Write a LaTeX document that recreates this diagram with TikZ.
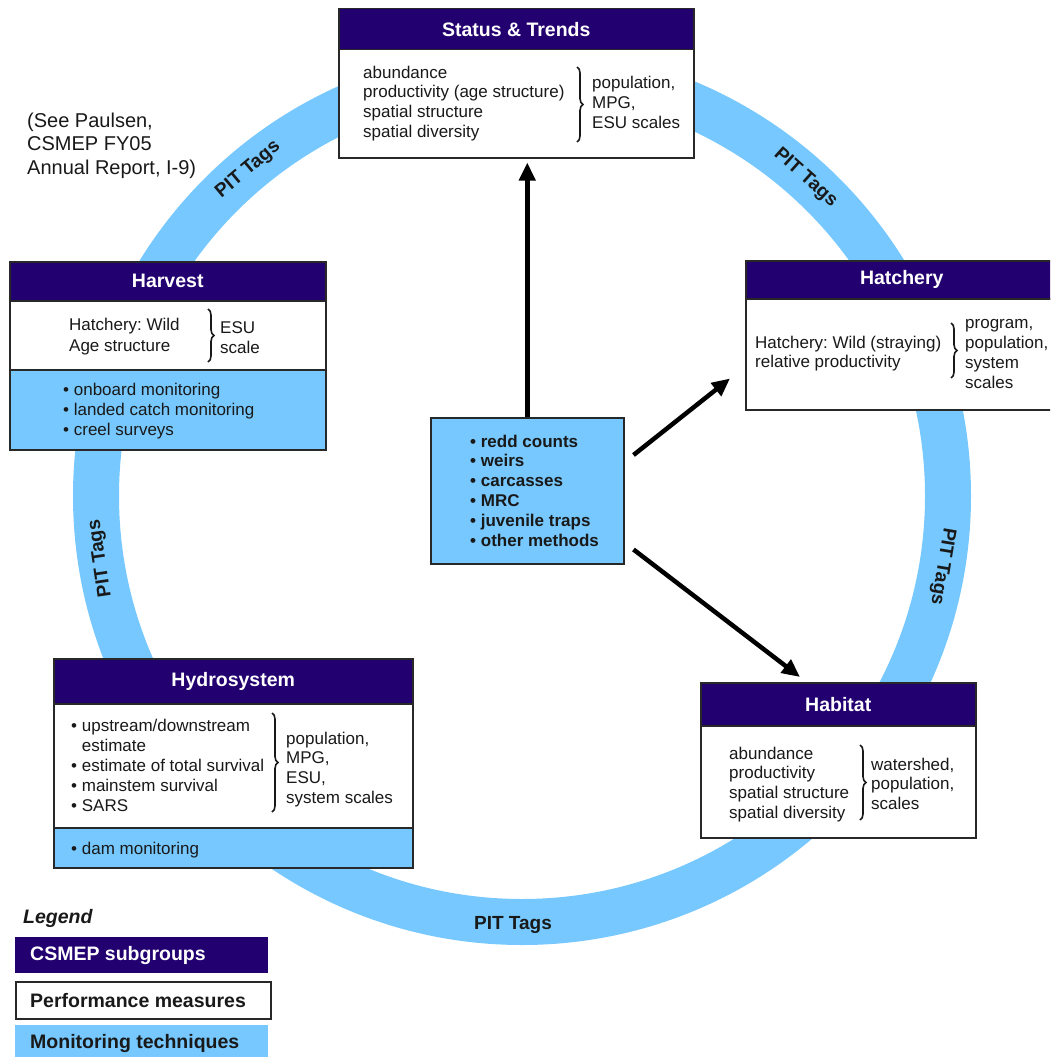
\documentclass[tikz,border=0pt]{standalone}
\usepackage{fontspec}
\setmainfont{Liberation Sans}
\usetikzlibrary{arrows.meta,decorations.pathreplacing,calc}
\definecolor{hdrc}{RGB}{34,0,112}
\definecolor{ringc}{RGB}{118,200,254}
\definecolor{edgec}{RGB}{40,40,40}
\definecolor{txtc}{RGB}{25,25,25}
\frenchspacing
\begin{document}
\begin{tikzpicture}[x=1pt,y=-1pt,
  boxbase/.style={draw=edgec, line width=1.5pt, anchor=north west, inner sep=0pt},
  hdr/.style={boxbase, fill=hdrc, text=white, font=\fontsize{19.5}{22}\selectfont\bfseries},
  pm/.style={boxbase, fill=white},
  mt/.style={boxbase, fill=ringc},
  body/.style={anchor=north west, inner sep=0pt, align=left, text=txtc, font=\fontsize{17}{20}\selectfont},
  brc/.style={decorate, decoration={brace, amplitude=6pt}, draw=txtc, line width=1.6pt},
  arr/.style={line width=4.5pt, -{Triangle[length=18pt,width=16pt]}, black},
  pit/.style={font=\fontsize{19}{20}\selectfont\bfseries, text=txtc, inner sep=0pt},
  lgt/.style={font=\fontsize{19.5}{22}\selectfont\bfseries, anchor=west, inner sep=0pt}
]
\useasboundingbox (0,0) rectangle (1050,1057);
\clip (0,0) rectangle (1050,1057);

% ring
\coordinate (rc) at (522,496);
\draw[ringc, line width=46pt] (rc) circle[radius=426pt];
\node[pit, rotate=40] (pit1) at (248.2,169.7) {PIT~Tags};
\node[pit, rotate=-41.7] (pit2) at (805.4,177.9) {PIT~Tags};
\node[pit, rotate=-99.5] (pit3) at (942.2,566.3) {PIT~Tags};
\node[pit, rotate=98.4] (pit4) at (100.6,558.2) {PIT~Tags};
\node[pit] (pit5) at (513,925) {PIT Tags};

% note
\node[body, font=\fontsize{20}{23.5}\selectfont] (note) at (27,110.5) {\strut(See Paulsen,\\CSMEP FY05\\Annual Report, I-9)};

% Status & Trends
\node[pm, minimum width=355pt, minimum height=108pt] (st) at (338,49) {};
\node[hdr, minimum width=355pt, minimum height=41pt] (st-h) at (338,8) {Status \& Trends};
\node[body, font=\fontsize{17}{19.7}\selectfont] (st-l) at (363,64.2) {\strut abundance\\productivity (age structure)\\spatial structure\\spatial diversity};
\node[body] (st-r) at (592,74) {\strut population,\\MPG,\\ESU scales};
\draw[brc] (577,67) -- (577,142);

% Harvest
\node[pm, minimum width=316pt, minimum height=69pt] (hv) at (9,300) {};
\node[mt, minimum width=316pt, minimum height=80pt] (hv-m) at (9,369) {};
\node[hdr, minimum width=316pt, minimum height=39pt] (hv-h) at (9,261) {Harvest};
\node[body, font=\fontsize{17}{21}\selectfont] (hv-l) at (69,315.3) {\strut Hatchery: Wild\\Age structure};
\node[body] (hv-r) at (220,319) {\strut ESU\\scale};
\draw[brc] (208,309) -- (208,362);
\node[body] (hv-b) at (63,381) {\strut • onboard monitoring\\• landed catch monitoring\\• creel surveys};

% Hatchery
\node[pm, minimum width=312pt, minimum height=111pt] (hc) at (745,298) {};
\node[hdr, minimum width=312pt, minimum height=38pt] (hc-h) at (745,260) {Hatchery};
\node[body, font=\fontsize{17}{19.5}\selectfont] (hc-l) at (755,334.4) {\strut Hatchery: Wild (straying)\\relative productivity};
\node[body] (hc-r) at (965,314) {\strut program,\\population,\\system\\scales};
\draw[brc] (951,323) -- (951,378);

% Hydrosystem
\node[pm, minimum width=359pt, minimum height=124pt] (hy) at (53,703) {};
\node[mt, minimum width=359pt, minimum height=40pt] (hy-m) at (53,827) {};
\node[hdr, minimum width=359pt, minimum height=45pt] (hy-h) at (53,658) {Hydrosystem};
\node[body] (hy-l) at (71,717) {\strut • upstream/downstream\\\hphantom{•\ }estimate\\• estimate of total survival\\• mainstem survival\\• SARS};
\node[body, font=\fontsize{17}{19.7}\selectfont] (hy-r) at (286,730.2) {\strut population,\\MPG,\\ESU,\\system scales};
\draw[brc] (272,713) -- (272,812);
\node[body] (hy-b) at (71,840) {\strut • dam monitoring};

% Habitat
\node[pm, minimum width=275pt, minimum height=112pt] (hb) at (700,725) {};
\node[hdr, minimum width=275pt, minimum height=43pt] (hb-h) at (700,682) {Habitat};
\node[body, font=\fontsize{17}{19.7}\selectfont] (hb-l) at (729,745.2) {\strut abundance\\productivity\\spatial structure\\spatial diversity};
\node[body, font=\fontsize{17}{19.5}\selectfont] (hb-r) at (871,756.4) {\strut watershed,\\population,\\scales};
\draw[brc] (860,745) -- (860,820);

% centre box
\node[mt, minimum width=193pt, minimum height=146pt] (cb) at (430,417) {};
\node[body, font=\fontsize{17}{19.8}\selectfont\bfseries] (cb-t) at (470,433) {\strut • redd counts\\• weirs\\• carcasses\\• MRC\\• juvenile traps\\• other methods};

% arrows
\draw[arr] (cb.north) -- ($(cb.north |- st.south)+(0,4)$);
\draw[arr] ($(cb.north east)+(9,38)$) -- ($(hc.south west)+(-15,-32)$);
\draw[arr] ($(cb.south east)+(9,-15)$) -- ($(hb-h.north west)+(100,-5)$);

% legend
\node[font=\fontsize{19.5}{22}\selectfont\bfseries\itshape, anchor=base west, inner sep=0pt, text=txtc] (lg) at (23,923) {Legend};
\node[anchor=north west, inner sep=0pt, fill=hdrc, minimum width=253pt, minimum height=36pt] (lg1) at (15,937) {};
\node[lgt, text=white] (lg1-t) at ([xshift=15pt]lg1.west) {CSMEP subgroups};
\node[pm, minimum width=255pt, minimum height=37pt] (lg2) at (15,981) {};
\node[lgt, text=txtc] (lg2-t) at ([xshift=15pt]lg2.west) {Performance measures};
\node[anchor=north west, inner sep=0pt, fill=ringc, minimum width=253pt, minimum height=36pt] (lg3) at (15,1025) {};
\node[lgt, text=txtc] (lg3-t) at ([xshift=15pt]lg3.west) {Monitoring techniques};
\end{tikzpicture}
\end{document}
